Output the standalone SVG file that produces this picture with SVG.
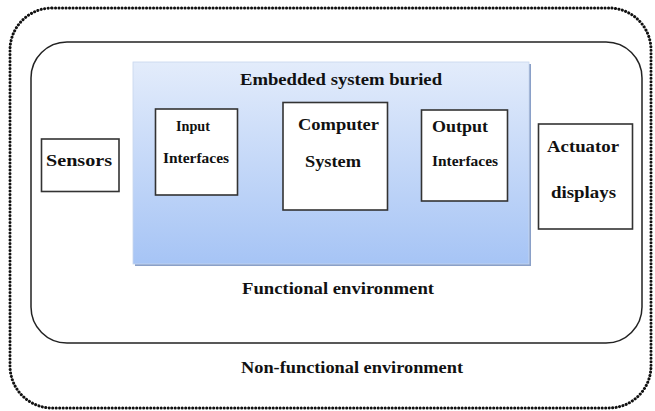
<svg xmlns="http://www.w3.org/2000/svg" width="655" height="411" viewBox="0 0 655 411">
<defs>
<linearGradient id="blue" x1="0" y1="0" x2="0" y2="1">
<stop offset="0" stop-color="#e3ecfb"/>
<stop offset="1" stop-color="#a6c4f5"/>
</linearGradient>
</defs>
<style>
text{font-family:'Liberation Serif','DejaVu Serif',serif;font-weight:bold;fill:#111;text-anchor:middle}
.box{fill:#fff;stroke:#333;stroke-width:1.6}
</style>
<rect width="655" height="411" fill="#fff"/>
<g id="non-functional">
<rect x="10" y="8" width="641" height="400" rx="42" ry="42" fill="none" stroke="#111" stroke-width="3" stroke-dasharray="0.1 3.4" stroke-linecap="round"/>
<text x="352" y="373" font-size="17" textLength="222" lengthAdjust="spacingAndGlyphs">Non-functional environment</text>
</g>
<g id="functional">
<rect x="31" y="42" width="611" height="301" rx="36" ry="36" fill="#fff" stroke="#222" stroke-width="1.5"/>
<text x="338" y="294" font-size="17" textLength="192" lengthAdjust="spacingAndGlyphs">Functional environment</text>
</g>
<g id="embedded">
<rect x="135" y="64" width="396" height="202" fill="#8aa0c8"/>
<rect x="133" y="62" width="396" height="202" fill="url(#blue)" stroke="#c7d6ee" stroke-width="0.8"/>
<text x="341" y="85" font-size="17" textLength="202" lengthAdjust="spacingAndGlyphs">Embedded system buried</text>
</g>
<g id="sensors">
<rect class="box" x="41.5" y="139" width="77.5" height="52.5"/>
<text x="79" y="166" font-size="17.5" textLength="66" lengthAdjust="spacingAndGlyphs">Sensors</text>
</g>
<g id="input">
<rect class="box" x="155.5" y="109" width="82" height="86"/>
<text x="193" y="131" font-size="14" textLength="34" lengthAdjust="spacingAndGlyphs">Input</text>
<text x="196" y="163" font-size="14" textLength="66" lengthAdjust="spacingAndGlyphs">Interfaces</text>
</g>
<g id="computer">
<rect class="box" x="283" y="102.5" width="104.5" height="107.5"/>
<text x="338.5" y="130" font-size="17" textLength="81" lengthAdjust="spacingAndGlyphs">Computer</text>
<text x="333" y="166.5" font-size="17" textLength="56" lengthAdjust="spacingAndGlyphs">System</text>
</g>
<g id="output">
<rect class="box" x="421.5" y="110" width="86" height="91"/>
<text x="460" y="132" font-size="17" textLength="56" lengthAdjust="spacingAndGlyphs">Output</text>
<text x="465" y="166" font-size="14" textLength="66" lengthAdjust="spacingAndGlyphs">Interfaces</text>
</g>
<g id="actuator">
<rect class="box" x="538.5" y="124" width="94" height="105"/>
<text x="583" y="152" font-size="17" textLength="72" lengthAdjust="spacingAndGlyphs">Actuator</text>
<text x="583.5" y="198" font-size="17" textLength="65" lengthAdjust="spacingAndGlyphs">displays</text>
</g>
<g id="connectors"/>
</svg>
